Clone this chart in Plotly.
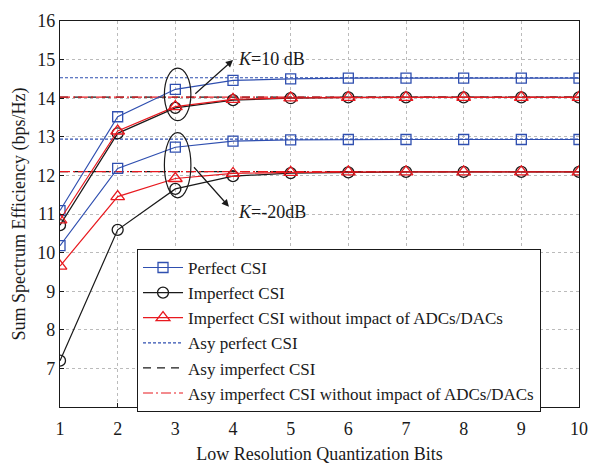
import plotly.graph_objects as go

bits = [1, 2, 3, 4, 5, 6, 7, 8, 9, 10]

# K = 10 dB
perf_k10 = [11.09, 13.52, 14.23, 14.46, 14.50, 14.52, 14.52, 14.52, 14.52, 14.52]
imp_k10 = [10.71, 13.09, 13.75, 13.95, 14.00, 14.02, 14.02, 14.02, 14.02, 14.02]
impw_k10 = [10.85, 13.15, 13.78, 13.97, 14.01, 14.02, 14.02, 14.02, 14.02, 14.02]
asy_perf_k10 = 14.53
asy_imp_k10 = 14.03
asy_impw_k10 = 14.03

# K = -20 dB
perf_km20 = [10.18, 12.18, 12.73, 12.89, 12.92, 12.93, 12.93, 12.93, 12.93, 12.93]
imp_km20 = [7.20, 10.59, 11.65, 11.98, 12.06, 12.08, 12.09, 12.09, 12.09, 12.09]
impw_km20 = [9.65, 11.45, 11.92, 12.05, 12.08, 12.09, 12.09, 12.09, 12.09, 12.09]
asy_perf_km20 = 12.94
asy_imp_km20 = 12.10
asy_impw_km20 = 12.10

BLUE = "#2f4fb0"
BLACK = "#1a1a1a"
RED = "#e8191f"
FONT = "Liberation Serif"
FS = 18

fig = go.Figure()

for i, (ap, ai, aw) in enumerate([(asy_perf_k10, asy_imp_k10, asy_impw_k10),
                                  (asy_perf_km20, asy_imp_km20, asy_impw_km20)]):
    show = i == 0
    fig.add_trace(go.Scatter(x=[bits[0], bits[-1]], y=[ap, ap], mode="lines",
                             line=dict(color=BLUE, width=1.2, dash="3px,2px"),
                             name="Asy perfect CSI", showlegend=show, legendrank=4))
    fig.add_trace(go.Scatter(x=[bits[0], bits[-1]], y=[ai, ai], mode="lines",
                             line=dict(color=BLACK, width=1.2, dash="8px,6px"),
                             name="Asy imperfect CSI", showlegend=show, legendrank=5))
    fig.add_trace(go.Scatter(x=[bits[0], bits[-1]], y=[aw, aw], mode="lines",
                             line=dict(color=RED, width=1.2, dash="10px,3px,2px,3px"),
                             name="Asy imperfect CSI without impact of ADCs/DACs",
                             showlegend=show, legendrank=6))

for i, (p, im, iw) in enumerate([(perf_k10, imp_k10, impw_k10),
                                 (perf_km20, imp_km20, impw_km20)]):
    show = i == 0
    fig.add_trace(go.Scatter(x=bits, y=p, mode="lines+markers",
                             line=dict(color=BLUE, width=1.2),
                             marker=dict(symbol="square-open", size=10, color=BLUE, line=dict(width=1.3)),
                             name="Perfect CSI", showlegend=show, legendrank=1))
    fig.add_trace(go.Scatter(x=bits, y=im, mode="lines+markers",
                             line=dict(color=BLACK, width=1.2),
                             marker=dict(symbol="circle-open", size=11, color=BLACK, line=dict(width=1.3)),
                             name="Imperfect CSI", showlegend=show, legendrank=2))
    fig.add_trace(go.Scatter(x=bits, y=iw, mode="lines+markers",
                             line=dict(color=RED, width=1.2),
                             marker=dict(symbol="triangle-up-open", size=12, color=RED, line=dict(width=1.3)),
                             name="Imperfect CSI without impact of ADCs/DACs", showlegend=show, legendrank=3))

# ellipses
fig.add_shape(type="circle", xref="x", yref="y", x0=2.81, x1=3.27, y0=13.42, y1=14.78,
              line=dict(color=BLACK, width=1.2))
fig.add_shape(type="circle", xref="x", yref="y", x0=2.81, x1=3.27, y0=11.42, y1=13.11,
              line=dict(color=BLACK, width=1.2))

# arrows + labels
fig.add_annotation(x=4.0, y=14.99, ax=3.32, ay=14.08, xref="x", yref="y", axref="x", ayref="y",
                   showarrow=True, arrowhead=2, arrowsize=1.2, arrowwidth=1.2, arrowcolor=BLACK, text="")
fig.add_annotation(x=3.93, y=11.19, ax=3.30, ay=12.25, xref="x", yref="y", axref="x", ayref="y",
                   showarrow=True, arrowhead=2, arrowsize=1.2, arrowwidth=1.2, arrowcolor=BLACK, text="")
fig.add_annotation(x=4.05, y=15.02, xref="x", yref="y", text="<i>K</i>=10 dB", showarrow=False,
                   xanchor="left", yanchor="middle", font=dict(family=FONT, size=FS, color=BLACK))
fig.add_annotation(x=4.05, y=11.05, xref="x", yref="y", text="<i>K</i>=-20dB", showarrow=False,
                   xanchor="left", yanchor="middle", font=dict(family=FONT, size=FS, color=BLACK))

axis_common = dict(showgrid=True, gridcolor="#bbbbbb", griddash="dot", gridwidth=1,
                   showline=True, linecolor=BLACK, linewidth=1.2, mirror=True,
                   ticks="inside", ticklen=4, tickcolor=BLACK, zeroline=False,
                   tickfont=dict(family=FONT, size=FS, color=BLACK))

fig.update_xaxes(range=[1, 10], dtick=1, ticklabelstandoff=5,
                 title=dict(text="Low Resolution Quantization Bits",
                 font=dict(family=FONT, size=FS, color=BLACK), standoff=9), **axis_common)
fig.update_yaxes(range=[6, 16], tickvals=[7, 8, 9, 10, 11, 12, 13, 14, 15, 16],
                 title=dict(text="Sum Spectrum Efficiency (bps/Hz)",
                 font=dict(family=FONT, size=FS, color=BLACK), standoff=6), **axis_common)

fig.update_layout(
    width=599, height=471,
    margin=dict(l=60, r=11, t=17, b=60),
    plot_bgcolor="white", paper_bgcolor="white",
    font=dict(family=FONT, color=BLACK),
    legend=dict(x=0.148, y=0.41, xanchor="left", yanchor="top",
                bgcolor="white", bordercolor=BLACK, borderwidth=1.2,
                font=dict(family=FONT, size=17, color=BLACK),
                tracegroupgap=0, itemwidth=40),
)

fig.write_html("out.html")
